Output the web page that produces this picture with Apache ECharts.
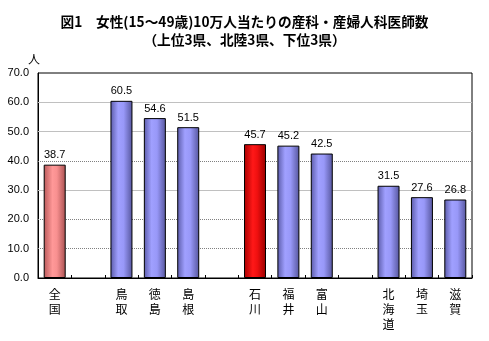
<!DOCTYPE html>
<html><head><meta charset="utf-8">
<script src="https://cdn.jsdelivr.net/npm/echarts@6/dist/echarts.min.js"></script>
<style>html,body{margin:0;padding:0;background:#fff}#c{width:489px;height:341px}</style>
</head><body><div id="c"></div>
<script>
const categories = ['全国','','鳥取','徳島','島根','','石川','福井','富山','','北海道','埼玉','滋賀'];
const values = [38.7,null,60.5,54.6,51.5,null,45.7,45.2,42.5,null,31.5,27.6,26.8];
const barKinds = ['national','','top','top','top','','ishikawa','hokuriku','hokuriku','','bottom','bottom','bottom'];
const dottedGrid = [10,20,40];
const solidGrid = [30,50,60];

function grad(stops){return {type:'linear',x:0,y:0,x2:1,y2:0,colorStops:stops.map(s=>({offset:s[0],color:s[1]}))};}
const blue = grad([[0,'#5a5aa8'],[0.35,'#a0a0ff'],[0.6,'#9898f8'],[1,'#55559c']]);
const pink = grad([[0,'#b85858'],[0.4,'#ff9898'],[0.6,'#f89090'],[1,'#a85050']]);
const red = grad([[0,'#a80000'],[0.4,'#ff1818'],[0.6,'#f01010'],[1,'#980000']]);
function colorFor(k){return k==='national'?pink:(k==='ishikawa'?red:blue);}

const gridLines = dottedGrid.map(v=>({yAxis:v,lineStyle:{color:'#808080',type:[1,1],width:1}}))
  .concat(solidGrid.map(v=>({yAxis:v,lineStyle:{color:'#c0c0c0',type:'solid',width:1}})));

const chart = echarts.init(document.getElementById('c'));
chart.setOption({
  animation:false,
  textStyle:{fontFamily:'"Noto Sans CJK JP", sans-serif'},
  title:{
    text:'図1　女性(15～49歳)10万人当たりの産科・産婦人科医師数\n（上位3県、北陸3県、下位3県）',
    left:'center', top:8,
    textStyle:{fontSize:13.7,fontWeight:'bold',color:'#000',lineHeight:18,fontFamily:'"Noto Sans CJK JP", sans-serif'}
  },
  grid:{left:38,right:17,top:73,bottom:63,show:true,borderColor:'#000',borderWidth:1,backgroundColor:'#fff'},
  xAxis:{
    type:'category', data:categories,
    axisLine:{lineStyle:{color:'#000',width:1}},
    axisTick:{show:true,inside:true,length:3,lineStyle:{color:'#000'}},
    axisLabel:{interval:0,color:'#000',fontSize:12,lineHeight:15,margin:9,
      formatter:v=>v.split('').join('\n')}
  },
  yAxis:{
    type:'value',min:0,max:70,interval:10,
    name:'人',nameLocation:'end',nameGap:8,
    nameTextStyle:{color:'#000',fontSize:12,align:'right',padding:[0,-2,0,0]},
    axisLine:{show:true,lineStyle:{color:'#000'}},
    axisTick:{show:false},
    axisLabel:{color:'#000',fontSize:11,margin:9,formatter:v=>v.toFixed(1),fontFamily:'"Liberation Sans", Arial, sans-serif'},
    splitLine:{show:false}
  },
  series:[{
    type:'line', data:[], z:1, silent:true,
    markLine:{silent:true,z:1,zlevel:0,symbol:'none',label:{show:false},animation:false,data:gridLines}
  },{
    type:'bar', barWidth:22, z:3,
    data:values.map((v,i)=>v===null?null:{value:v,itemStyle:{color:colorFor(barKinds[i]),borderColor:'#000',borderWidth:1}}),
    label:{show:true,position:'top',distance:4,color:'#000',fontSize:11,formatter:p=>p.value.toFixed(1),fontFamily:'"Liberation Sans", Arial, sans-serif'}
  }]
});
</script></body></html>
